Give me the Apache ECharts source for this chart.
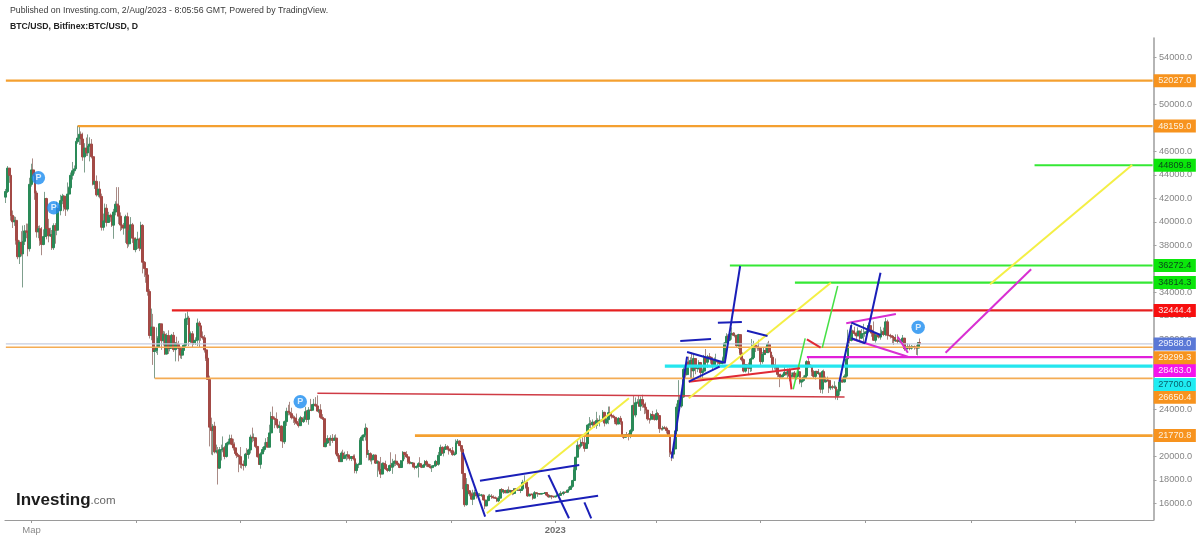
<!DOCTYPE html>
<html><head><meta charset="utf-8">
<style>html,body{margin:0;padding:0;background:#fff}#c{width:1200px;height:539px;filter:blur(0.4px)}</style>
<script src="https://cdn.jsdelivr.net/npm/echarts@6/dist/echarts.min.js"></script>
</head><body><div id="c"></div>
<script>
const firstDay = '2022-02-14';
const dayCount = 671;
const firstOpen = 42100;
const closes = [
42580,44575,43960,40540,40000,40120,38430,37020,38250,37260,38330,39220,39110,37710,43190,
44420,43920,42450,39140,39400,38420,38060,38740,41980,39440,38790,38900,37790,39670,39280,41110,40950,41800,42190,41250,41080,42360,42900,43960,44350,44510,46820,47130,47460,47060,45530,
46280,45870,46450,46620,45550,43210,43450,42290,42780,42160,39530,40070,41150,39940,40550,40420,39710,40830,41500,41370,40480,39720,39470,39470,40430,38120,39240,39740,38600,37630,
38470,38530,37750,39690,36550,36010,35470,34060,30300,31020,28940,29040,29280,30080,31300,29860,30420,28720,30310,29200,29430,30320,29100,29650,29540,29200,28630,29030,29470,31720,31790,
29800,30450,29700,29860,29910,31370,31130,30200,30110,29080,28370,26560,22490,22200,22570,20380,20470,19000,20570,20570,20720,19990,21100,21230,21500,21030,20730,20280,20100,19980,
19330,19300,19220,20190,20170,20550,21640,21580,21590,20850,19970,19320,20210,20590,20830,21190,20780,22000,23390,23240,23160,22680,22460,22580,21310,21250,22960,23840,23770,23640,23300,
23270,22980,22820,22620,23290,22960,23170,23810,23160,23950,23930,24400,24440,24300,23860,23960,23330,23210,20830,21140,21520,21390,21530,21370,21560,20240,20040,19550,20280,19810,20050,
20130,19950,19830,19990,19800,18790,19290,19320,21360,21650,21830,22400,20170,20230,19700,19800,20110,19420,19540,18880,18490,19400,19300,18930,18800,19220,19080,19410,19590,19430,
19310,19050,19620,20340,20160,19960,19530,19420,19440,19130,19060,19150,19380,19180,19070,19260,19550,19330,19120,19040,19170,19210,19570,19330,20090,20770,20290,20600,20820,20630,20490,
20480,20150,20200,21150,21300,20920,20600,18540,15880,17590,17070,16800,16350,16620,16900,16660,16690,16700,16700,16280,15780,16230,16600,16600,16520,16460,16430,16210,16440,17170,
16970,17090,16890,17110,16970,17090,16840,17230,17130,17130,17090,17210,17780,17810,17360,16630,16780,16740,16440,16900,16820,16830,16780,16840,16840,16920,16700,16550,16630,16600,16540,
16620,16670,16670,16850,16830,16950,16940,17120,17180,17440,17940,18850,19930,20950,20870,21190,21140,20680,21070,22670,22780,22710,22920,22640,23060,23010,23080,23030,23750,22840,23130,
23730,23490,23430,23330,22940,22760,23240,22960,21800,21630,21860,21790,21780,22200,24330,23530,24570,24630,24280,24840,24450,24190,23950,23190,23170,23560,23490,23140,
23650,23480,22360,22350,22430,22410,22200,21720,20360,20190,20630,22160,24200,24770,24290,25060,27420,26970,28040,27800,28180,27300,28340,27490,27490,28000,27140,27270,28350,28030,28480,
28470,28200,27800,28170,28170,28040,27920,27950,28330,29660,30230,29900,30400,30490,30320,30320,29430,30380,28820,28250,27270,27820,27590,27510,28300,28420,29470,29340,29250,29230,
28080,28680,29030,28850,29540,28900,28450,27690,27660,27620,26990,26800,26780,26930,27170,27030,27400,26830,26890,27110,26750,26850,27220,26330,26470,26720,26870,28080,27750,27700,27210,
26820,27240,27070,27110,25730,27230,26340,26500,26480,25840,25930,25900,25910,25120,25580,26340,26510,26340,26840,28310,30030,29890,30690,30530,30470,30270,30690,30080,30450,30470,
30590,30620,31150,30770,30510,29900,30350,30290,30170,30420,30620,30390,31470,30320,30290,30250,30140,29860,29910,29800,29910,29790,30080,29180,29230,29350,29220,29320,29360,29280,29230,
29700,29588];
const highs = [
42800,44750,44580,44170,40960,40460,40420,39490,38420,39200,39680,39720,39850,39840,43750,
44950,45400,44100,42650,39650,39690,39550,39350,42550,42050,40250,39490,39300,39870,39880,41700,41400,42300,42380,42290,41520,43350,43000,44200,45100,44800,46900,48190,48100,47700,47600,
46700,47180,47450,47200,47050,45500,43900,43950,42800,43450,42400,40700,41550,41500,40850,40700,40600,41100,41750,42950,42950,40800,39950,39900,40600,40780,39400,40400,39900,38800,
38670,39150,38650,40000,39800,36650,36100,35500,34250,32600,32150,30100,31000,30250,31350,31050,30700,30650,30500,30750,29600,30440,30600,29750,30200,29850,29350,29200,29550,32200,32350,
31980,30650,30680,29950,30150,31750,31550,31320,30650,30350,29450,28550,26880,23300,22750,22950,21000,20800,20800,21000,21700,20900,21200,21500,21850,21850,21500,21200,20380,20200,
20800,19650,19650,20300,20700,20650,21850,22450,21950,21600,20850,20030,20350,20800,21200,21550,21650,22700,23800,24250,23400,23750,22950,22990,22650,21850,23050,24150,24400,24650,24150,
23500,23450,23650,23200,23450,23350,23400,24230,23950,24200,24900,24450,24900,25050,25200,24230,24450,23600,23200,21380,21800,21620,21800,21900,21800,21880,20350,20130,20420,20570,20400,
20200,20440,20000,20030,20150,20170,19460,19450,21550,21800,21850,22800,22500,20550,20350,19950,20190,20150,19680,19630,19950,19490,19490,19630,19000,19300,20350,19790,19650,20180,
19480,19390,19690,20450,20360,20440,20060,19600,19520,19520,19260,19220,19500,19930,19210,19360,19690,19700,19360,19340,19240,19240,19700,19600,20380,21000,20860,20750,21050,20950,20830,
20700,20800,20400,21450,21480,21370,21040,20680,18580,18150,17650,17100,16930,17150,17150,17000,16880,16880,16800,16750,16270,16300,16750,16800,16780,16680,16590,16480,16620,17200,
17300,17100,17150,17200,17430,17100,17130,17280,17300,17220,17270,17240,18000,18380,17850,17530,16800,16830,16820,17050,16900,16880,16820,16870,16860,16950,16950,16780,16650,16630,16630,
16630,16770,16780,17040,16880,17020,16960,17170,17400,17500,18000,19100,19950,21300,21050,21450,21620,21650,21180,22730,23350,23080,23150,23000,23800,23250,23500,23180,23950,23800,23300,
24250,24250,23720,23560,23430,23160,23350,23450,23010,21900,21900,22080,21990,22320,24400,25200,25020,24880,25150,25100,25250,24470,24600,23950,23220,23680,23880,23600,
24000,23780,23500,22430,22600,22600,22550,22270,21800,20370,20800,22200,24500,26500,25250,25180,27750,27700,28400,28500,28450,28850,28800,28350,27780,28200,28050,27500,28650,29150,28650,
28800,28500,28480,28430,28750,28200,28100,28150,28500,29750,30500,30400,30600,31000,30600,30550,30350,30450,30400,29100,28350,27880,27800,28000,28380,30000,29850,29600,29450,29950,
29300,28900,29250,29350,29700,29850,29100,28650,27850,28350,27650,26950,27050,27050,27650,27250,27480,27500,27150,27150,27280,26950,27450,27200,26650,26900,26950,28200,28450,27850,27800,
27350,27300,27300,27450,27150,27350,27400,26800,26800,26550,26200,26100,26400,26050,25750,26500,26780,26700,27000,28400,30800,30500,31400,30800,31050,30650,31000,30700,30850,31300,
30650,30800,31400,31300,30850,31500,30450,30400,30450,31050,30800,30980,31800,31650,30380,30450,30350,30250,30400,30400,30050,29990,30350,30100,29370,29650,29570,29500,29430,29450,29500,
29700,30050];
const lows = [
41600,42450,43320,40100,39470,39650,38050,36810,36400,37050,34400,38020,38600,37060,37460,
43000,43350,41870,38650,38600,37950,37150,38000,38670,38500,38250,38700,37600,37600,38130,38850,40500,40550,41500,40900,40500,40890,41800,42580,43600,44100,44420,46650,46550,46550,45200,
44200,45600,45600,45150,45400,43100,42800,42150,42100,42000,39250,39250,39580,39600,39950,40000,39550,38550,40550,40850,39800,39200,39300,38900,38200,37750,37880,38900,38200,37600,
37400,37680,37500,37650,35600,35300,34800,33700,30050,29900,27800,26650,28800,28650,29550,29080,29450,28650,28700,28730,28950,29330,28900,28100,29350,28100,28350,28300,28850,29300,31200,
29400,29650,29300,29500,29500,29400,29250,29850,29950,28850,28130,26600,20850,20150,20100,20250,20250,17600,18950,19650,20350,19750,19900,20950,21000,20950,20500,20200,19850,18650,
19000,18950,18800,19050,19350,19800,20250,21200,21300,20700,19900,19280,18950,20200,20400,20650,20800,20800,21650,22950,22400,22450,22350,22000,21300,20720,21050,22600,23500,23500,23150,
22850,22680,22700,22450,22600,22850,22850,23150,22900,22700,23900,23850,24300,24250,23800,23680,23200,23100,20800,20780,21050,20900,20900,21150,21350,20150,19800,19550,19550,19550,19900,
19650,19750,19650,19600,19650,18560,18540,19000,19300,21150,21300,21350,19880,19650,19550,19320,19780,19350,18250,18720,18150,18650,18550,18850,18650,18680,18800,18510,19150,19180,
19200,19000,19040,19550,19750,19850,19340,19320,19330,19050,18880,18950,18200,19100,19000,19070,19160,19100,19100,18950,18670,19120,19090,19180,19200,20060,20200,20000,20570,20520,20150,
20300,20050,20050,20170,21050,20870,20400,17200,15700,15800,16400,16600,16320,15850,16550,16400,16550,16600,16550,16250,15500,15800,16180,16470,16370,16410,16400,16100,16100,16430,
16850,16800,16880,16880,16880,16900,16690,16730,17060,17090,17070,16870,17100,17650,17250,16550,16590,16680,16300,16410,16780,16550,16760,16780,16800,16810,16600,16480,16500,16350,16470,
16500,16600,16620,16650,16770,16680,16920,16920,17100,17150,17320,17900,18700,19950,20600,20690,20900,20400,20650,20900,22420,22300,22500,22450,22350,22900,22550,22950,23000,22550,22730,
22750,23380,23230,23250,22750,22640,22750,22700,21700,21480,21620,21640,21360,21550,22050,23500,23330,24450,24240,23880,24150,23600,23650,23050,22800,23050,23100,23050,
23050,23200,22000,22200,22200,22350,21950,21650,19950,19600,19800,20400,21900,24000,23900,24150,25000,26650,26900,27200,26650,26650,26700,27000,27180,27400,26650,26650,27250,27600,27550,
28250,27900,27300,27700,27850,27750,27750,27900,27850,28150,29650,29650,29900,29950,30250,30150,29300,29150,28650,28100,27150,27150,27380,27000,27200,27250,28400,28900,29000,29000,
27700,27900,28150,28700,28800,28800,28400,27300,27400,27200,26750,25900,26700,26750,26850,26900,26600,26400,26650,26700,26600,26550,26800,26150,25900,26350,26700,26850,27550,27550,26850,
26600,26550,26950,26950,25400,25350,26150,26300,26350,25400,25650,25700,25750,24850,24800,25200,26200,26300,26300,26650,28250,29600,29800,30300,30300,29950,30250,29900,30000,29600,
30200,30200,30550,30650,30200,29850,29700,30050,30050,29950,30200,30250,30250,29950,30250,30050,29650,29500,29750,29600,29700,29650,29700,29000,29100,29100,29050,29100,29250,29100,28650,
28600,29400];

const yTickLabels = [16000,18000,20000,22000,24000,26000,28000,30000,32000,34000,36000,38000,40000,42000,44000,46000,48000,50000,52000,54000];
const xTickDates = ['2022-03-01','2022-05-01','2022-07-01','2022-09-01','2022-11-01','2023-01-01','2023-03-01','2023-05-01','2023-07-01','2023-09-01','2023-11-01'];
const xTickLabels = {'2022-03-01':'{a|Мар}','2023-01-01':'{b|2023}'};

// horizontal levels: [price, first day index, tag text, line colour, width, tag fill, tag text colour, tag shift]
const levels = [
 [52027,0,'52027.0','#f4a030',2.2,'#f7931e','#fdf1df',0],
 [48159,42,'48159.0','#f4a030',2.2,'#f7931e','#fdf1df',0],
 [44809.8,601,'44809.8','#35e835',2,'#0be60b','#0a4a1a',0],
 [36272.4,423,'36272.4','#35e835',2.2,'#0be60b','#0a4a1a',0],
 [34814.3,461,'34814.3','#35e835',2.2,'#0be60b','#0a4a1a',0],
 [32444.4,97,'32444.4','#e62020',2.2,'#f70f0f','#fde8e8',0],
 [21770.8,239,'21770.8','#f4a030',2.6,'#f7931e','#fdf1df',0],
 [26650.4,87,'26650.4','#f4ac55',1.6,'#f7931e','#fdf1df',19],
 [27700,385,'27700.0','#25e6ee',3.2,'#1fecf2','#08606e',18.5],
 [28463,468,'28463.0','#e020da',2.2,'#f414ec','#fde8fd',13.5],
 [29299.3,0,'29299.3','#f4ac55',1.6,'#f7931e','#fdf1df',10.5],
 [29588,0,'29588.0','#c6cde0',1.2,'#5a78d6','#eef2ff',0]
];
// drawn segments: [day index, price, day index, price]
const blueSegments = [
 [267,20314,280,14858],[277,17927,335,19265],[286,15318,346,16648],[317,18413,329,14721],[338,16085,342,14721],
 [389,19836,398,28498],[394,29836,412,30007],[398,28898,420,27986],[399,26366,417,27645],[420,27935,429,36230],
 [416,31396,430,31456],[433,30714,445,30262],[487,26366,494,31200],[494,31396,511,30348],[502,29640,511,35659],[494,30066,502,29640]];
const yellowSegments = [[281,15148,364,24951],[399,24951,482,34806],[575,34670,658,44840]];
const darkRedSegments = [[182,25378,490,25062]];
const redSegments = [[399,26366,464,27509],[458,26938,459,25719],[468,29981,476,29265]];
const greenSegments = [[460,25719,467,30066],[477,29265,486,34525]];
const magentaSegments = [[491,31345,520,32138],[495,29981,527,28498],[521,30203,527,28839],[549,28839,599,35949]];
// publication markers: [day index, price]
const pMarkers = [[19,43757],[28,41200],[172,24661],[533,31004]];

const dates = [];
{ const t0 = Date.parse(firstDay + 'T00:00:00Z');
  for (let i = 0; i < dayCount; i++) dates.push(new Date(t0 + i * 864e5).toISOString().slice(0, 10)); }
const opens = [firstOpen].concat(closes.slice(0, -1));
const wickCandles = closes.map((c, i) => [opens[i], c, lows[i], highs[i]]);
const bodyCandles = closes.map((c, i) => [opens[i], c, Math.min(opens[i], c), Math.max(opens[i], c)]);

const FONT = '"Liberation Sans", Arial, sans-serif';
const segSeries = (segs, color, width, name) => segs.map((s, k) => ({
  type: 'line', name: name + k, silent: true, symbol: 'none', animation: false, z: 4,
  data: [[s[0], s[1]], [s[2], s[3]]], lineStyle: { color, width }
}));
const levelSeries = levels.map(l => ({
  type: 'line', silent: true, symbol: 'none', animation: false, z: 3, name: l[2],
  data: [[l[1], l[0]], [dayCount - 1, l[0]]],
  lineStyle: { color: l[3], width: l[4] },
  endLabel: { show: true, formatter: l[2], distance: 1, offset: [0, l[7]], fontFamily: FONT, fontSize: 9.2,
    color: l[6], backgroundColor: l[5], padding: [2.2, 4.5, 1.8, 4.5], lineHeight: 9 }
}));

const chart = echarts.init(document.getElementById('c'), null, { renderer: 'canvas' });
chart.setOption({
  animation: false,
  backgroundColor: '#fff',
  title: [
    { text: 'Published on Investing.com, 2/Aug/2023 - 8:05:56 GMT, Powered by TradingView.', left: 5, top: 1,
      textStyle: { fontFamily: FONT, fontSize: 8.75, fontWeight: 'normal', color: '#3a3a3a' } },
    { text: 'BTC/USD, Bitfinex:BTC/USD, D', left: 5, top: 17,
      textStyle: { fontFamily: FONT, fontSize: 8.7, fontWeight: 'bold', color: '#222' } }
  ],
  graphic: [{ type: 'text', left: 16, top: 492,
    style: { text: '{a|Investing}{b|.com}', rich: {
      a: { fontFamily: FONT, fontSize: 17, fontWeight: 'bold', fill: '#1c1c1c' },
      b: { fontFamily: FONT, fontSize: 11.5, fill: '#666' } } } }],
  grid: { left: 5, right: 46.5, top: 38, bottom: 19, containLabel: false },
  xAxis: {
    type: 'category', data: dates,
    axisLine: { show: true, lineStyle: { color: '#9a9a9a', width: 1.2 } },
    axisTick: { show: true, alignWithLabel: true, length: 3, lineStyle: { color: '#9a9a9a' },
      interval: (i, v) => xTickDates.includes(v) },
    axisLabel: { show: true, interval: (i, v) => xTickDates.includes(v), margin: 5, hideOverlap: false,
      formatter: v => xTickLabels[v] || '', fontFamily: FONT,
      rich: { a: { fontFamily: FONT, fontSize: 9.5, color: '#8a8a8a' },
              b: { fontFamily: FONT, fontSize: 9.5, fontWeight: 'bold', color: '#707070' } } },
    splitLine: { show: false }
  },
  yAxis: {
    type: 'value', position: 'right', min: 14576, max: 55667, scale: true,
    axisLine: { show: true, lineStyle: { color: '#a3a3a3', width: 1.6 } },
    axisTick: { show: true, length: 3, lineStyle: { color: '#a3a3a3' }, customValues: yTickLabels },
    axisLabel: { show: true, margin: 5.5, customValues: yTickLabels, formatter: v => Number(v).toFixed(1),
      fontFamily: FONT, fontSize: 9.2, color: '#858585' },
    splitLine: { show: false }
  },
  series: [
    { type: 'candlestick', data: wickCandles, barWidth: 1, animation: false, silent: true, z: 2,
      itemStyle: { color: '#7f9f8d', color0: '#a98a85', borderColor: '#7f9f8d', borderColor0: '#a98a85', borderWidth: 1 } },
    { type: 'candlestick', data: bodyCandles, barWidth: 2.4, animation: false, silent: true, z: 2,
      itemStyle: { color: '#2a8a58', color0: '#a34a46', borderColor: '#2a8a58', borderColor0: '#a34a46', borderWidth: 1 } },
    ...levelSeries,
    ...segSeries(darkRedSegments, '#cf3b45', 1.5, 'dr'),
    ...segSeries(yellowSegments, '#f4ef45', 2, 'y'),
    ...segSeries(greenSegments, '#45e045', 1.5, 'g'),
    ...segSeries(redSegments, '#e02a35', 2, 'r'),
    ...segSeries(magentaSegments, '#d82fd2', 2, 'm'),
    ...segSeries(blueSegments, '#1a1fb8', 2, 'b'),
    { type: 'scatter', silent: true, animation: false, z: 6, symbol: 'circle', symbolSize: 13.5, data: pMarkers,
      itemStyle: { color: '#1a8cf0' },
      label: { show: true, position: 'inside', formatter: 'P', color: '#fff', fontFamily: FONT, fontWeight: 'bold', fontSize: 9 } }
  ]
});
</script></body></html>
